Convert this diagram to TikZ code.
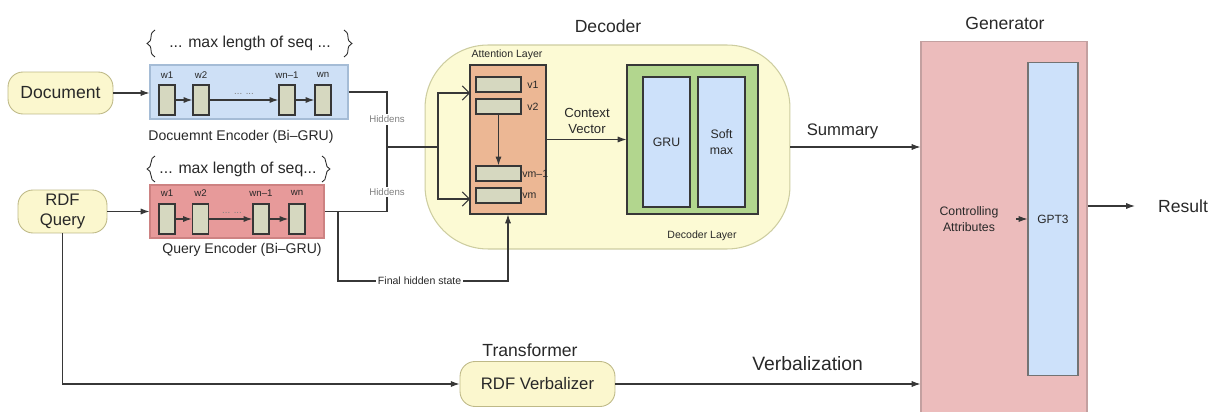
\documentclass[tikz,border=0pt]{standalone}
\usepackage{fontspec}
\setmainfont{Liberation Sans}
\usepackage{tikz}
\usetikzlibrary{arrows.meta,decorations.pathreplacing}
\definecolor{inyellow}{RGB}{251,247,206}
\definecolor{inyellowline}{RGB}{190,185,135}
\definecolor{encblue}{RGB}{206,224,246}
\definecolor{encblueline}{RGB}{165,188,214}
\definecolor{encred}{RGB}{231,154,154}
\definecolor{encredline}{RGB}{205,130,130}
\definecolor{cellgreen}{RGB}{214,216,192}
\definecolor{linegray}{RGB}{55,55,55}
\definecolor{textgray}{RGB}{40,40,40}
\definecolor{decyellow}{RGB}{252,250,212}
\definecolor{decyellowline}{RGB}{205,205,160}
\definecolor{attorange}{RGB}{236,183,148}
\definecolor{layergreen}{RGB}{178,214,142}
\definecolor{grublue}{RGB}{205,225,250}
\definecolor{genpink}{RGB}{236,188,188}
\definecolor{genpinkline}{RGB}{195,160,160}

\begin{document}
\begin{tikzpicture}[x=0.02cm, y=-0.02cm,
    lbl/.style={text=textgray, inner sep=1pt},
    biglbl/.style={lbl, font=\fontsize{10}{12}\selectfont},
    midlbl/.style={lbl, font=\fontsize{7.5}{9}\selectfont, align=center},
    smalllbl/.style={lbl, font=\fontsize{6}{7}\selectfont},
    tinylbl/.style={lbl, font=\fontsize{5.5}{6}\selectfont},
    seqlbl/.style={text=textgray, inner sep=0pt, font=\fontsize{9}{11}\selectfont},
    seqbrace/.style={draw=textgray, line width=0.5pt, decorate,
        decoration={brace, amplitude=4.5pt}},
    inbox/.style={draw=inyellowline, fill=inyellow, rounded corners=0.3cm, text=textgray,
        font=\fontsize{10}{12}\selectfont, line width=0.5pt, inner sep=0pt, align=center},
    cell/.style={draw=linegray, fill=cellgreen, minimum width=0.32cm, minimum height=0.6cm,
        inner sep=0pt, line width=0.8pt},
    vec/.style={draw=linegray, fill=cellgreen, minimum width=0.9cm, minimum height=0.3cm,
        inner sep=0pt, line width=0.8pt},
    inner/.style={draw=linegray, fill=grublue, minimum width=0.94cm, minimum height=2.6cm,
        inner sep=0pt, line width=0.6pt, text=textgray, font=\fontsize{7}{9}\selectfont, align=center},
    wire/.style={draw=linegray, line width=0.6pt},
    arr/.style={wire, -{Latex[length=5pt,width=3.5pt]}},
    openarr/.style={wire, -{Straight Barb[length=4pt,width=8pt]}},
    hid/.style={fill=white, text=gray, font=\fontsize{5.5}{6}\selectfont, inner sep=1pt}]
    \useasboundingbox (0,0) rectangle (1215,412);

    % Inputs
    \node[inbox, minimum width=2.1cm, minimum height=0.84cm] (doc) at (60.5,93) {Document};
    \node[inbox, minimum width=1.78cm, minimum height=0.86cm, font=\fontsize{9.5}{11}\selectfont] (query) at (62.5,211.5) {RDF\\Query};

    % Document encoder
    \node[seqlbl] (docseq) at (250,43) {... max length of seq ...};
    \draw[seqbrace] (155,57) -- (155,30);
    \draw[seqbrace] (344,30) -- (344,57);
    \node[fill=encblue, draw=encblueline, line width=0.6pt, minimum width=3.96cm, minimum height=1.08cm] (docenc) at (249,92) {};
    \foreach \n/\x/\lab in {1/167/w1, 2/201/w2, 3/287/wn--1, 4/323/wn} {
        \node[cell] (dc\n) at (\x,100) {};
        \node[tinylbl] at (\x,75) {\lab};
    }
    \draw[arr] (dc1) -- (dc2);
    \draw[arr] (dc2) -- (dc3);
    \draw[arr] (dc3) -- (dc4);
    \node[tinylbl, text=gray] at (244,94) {... ...};
    \node[lbl, inner sep=0pt, font=\fontsize{8}{10}\selectfont] at (241,137) {Docuemnt Encoder (Bi--GRU)};
    \draw[arr] (doc.east) -- (docenc.west|-doc.east);

    % Query encoder
    \node[seqlbl] (qryseq) at (238,169) {... max length of seq...};
    \draw[seqbrace] (155,182) -- (155,156);
    \draw[seqbrace] (322,156) -- (322,182);
    \node[fill=encred, draw=encredline, line width=0.6pt, minimum width=3.48cm, minimum height=1.06cm] (qryenc) at (237,211.5) {};
    \foreach \n/\x/\lab in {1/167/w1, 2/200.5/w2, 3/261/wn--1, 4/297/wn} {
        \node[cell] (qc\n) at (\x,219) {};
        \node[tinylbl] at (\x,193) {\lab};
    }
    \draw[arr] (qc1) -- (qc2);
    \draw[arr] (qc2) -- (qc3);
    \draw[arr] (qc3) -- (qc4);
    \node[tinylbl, text=gray] at (232,213) {... ...};
    \node[lbl, inner sep=0pt, font=\fontsize{8}{10}\selectfont] at (242,250) {Query Encoder (Bi--GRU)};
    \draw[arr] (query.east) -- (qryenc.west|-query.east);

    % Decoder
    \node[draw=decyellowline, fill=decyellow, line width=0.6pt, rounded corners=1.26cm,
        minimum width=7.3cm, minimum height=4.08cm] (dec) at (607.5,147) {};
    \node[biglbl] at (608,26) {Decoder};
    \node[draw=linegray, fill=attorange, line width=0.6pt, minimum width=1.52cm, minimum height=2.98cm] (att) at (508,139.5) {};
    \node[smalllbl] at (507,55) {Attention Layer};
    \foreach \n/\y in {1/84.5, 2/106.5, 3/173.5, 4/195.5}
        \node[vec] (v\n) at (498.5,\y) {};
    \node[smalllbl] at (533,84.5) {v1};
    \node[smalllbl] at (533,106.5) {v2};
    \node[smalllbl, anchor=west, inner sep=0pt] at (522,174) {vm--1};
    \node[smalllbl, anchor=west, inner sep=0pt] at (522,196) {vm};
    \draw[arr] (v2) -- (v3);
    \node[draw=linegray, fill=layergreen, line width=0.6pt, minimum width=2.62cm, minimum height=2.98cm] (layer) at (692.5,139.5) {};
    \node[inner] (gru) at (666.5,142) {GRU};
    \node[inner] (soft) at (721.5,142) {Soft\\max};
    \node[smalllbl] at (702,236) {Decoder Layer};
    \draw[arr] (att) -- (layer);
    \node[midlbl] at (587,121) {Context\\Vector};

    % Hiddens into attention
    \coordinate (hj) at (387,147);
    \coordinate (sj) at (438,147);
    \coordinate (ain1) at (470,93);
    \coordinate (ain2) at (470,199);
    \draw[wire] (docenc.east) -| (hj) node[hid, pos=0.75] {Hiddens};
    \draw[wire] (qryenc.east) -| (hj) node[hid, pos=0.65] {Hiddens};
    \draw[wire] (hj) -- (sj);
    \draw[openarr] (sj) |- (ain1);
    \draw[openarr] (sj) |- (ain2);

    % Final hidden state
    \coordinate (fh) at (338,211.5);
    \coordinate (fhc) at (338,281);
    \draw[arr] (fh) -- (fhc) -| (att.south) node[hid, text=textgray, font=\fontsize{6}{7}\selectfont, pos=0.24] {Final hidden state};

    % Generator
    \node[draw=genpinkline, fill=genpink, line width=0.6pt, minimum width=3.32cm, minimum height=7.5cm] (gen) at (1004,228.5) {};
    \node[biglbl] at (1005,23) {Generator};
    \node[draw=linegray!70, fill=grublue, line width=0.6pt, minimum width=1.0cm, minimum height=6.28cm,
        text=textgray, font=\fontsize{6.8}{8}\selectfont] (gpt) at (1053,219) {GPT3};
    \node[midlbl, font=\fontsize{7}{9}\selectfont] (ctrl) at (969,219) {Controlling\\Attributes};
    \draw[arr, shorten <=9pt] (ctrl) -- (gpt);
    \draw[arr] (dec.east) -- (gen.west|-dec.east) node[biglbl, font=\fontsize{9.5}{11}\selectfont, above=3pt, pos=0.4] {Summary};
    \node[biglbl] (res) at (1183,206) {Result};
    \draw[arr, shorten >=12pt] (gen.east|-res) -- (res.west);

    % Verbalizer
    \node[inbox, minimum width=3.1cm, minimum height=0.9cm, rounded corners=0.3cm, font=\fontsize{9.5}{11}\selectfont] (verb) at (537.5,384) {RDF Verbalizer};
    \node[biglbl] at (530,350) {Transformer};
    \draw[arr] (query.south) |- (verb.west);
    \draw[arr] (verb.east) -- (gen.west|-verb.east) node[biglbl, font=\fontsize{11}{13}\selectfont, above=6pt, pos=0.63] {Verbalization};
\end{tikzpicture}
\end{document}
